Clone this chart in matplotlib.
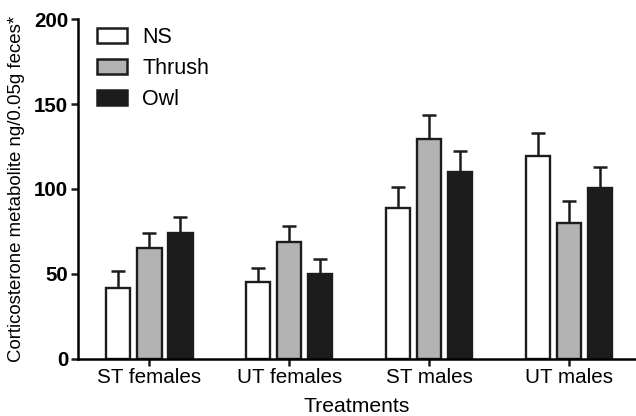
import numpy as np
import matplotlib
matplotlib.use('Agg')
import matplotlib.pyplot as plt

plt.rcParams['font.family'] = ['Liberation Sans', 'DejaVu Sans']

groups = ['ST females', 'UT females', 'ST males', 'UT males']
series = ['NS', 'Thrush', 'Owl']
colors = ['white', '#b3b3b3', '#1c1c1c']

ns_mean = [41.9, 44.9, 88.6, 119.4]
ns_err = [9.5, 8.7, 12.5, 13.6]
thrush_mean = [65.0, 68.8, 129.7, 80.0]
thrush_err = [9.3, 9.4, 13.8, 13.0]
owl_mean = [74.3, 50.0, 109.8, 100.5]
owl_err = [9.2, 8.9, 12.6, 12.4]

means = [ns_mean, thrush_mean, owl_mean]
errs = [ns_err, thrush_err, owl_err]

fig = plt.figure(figsize=(6.36, 4.16), dpi=100)
ax = fig.add_axes([0.1226, 0.138, 0.8774, 0.8155])

x = np.arange(len(groups))
offset = 0.222
width = 0.175
for i in range(3):
    pos = x + (i - 1) * offset
    ax.bar(pos, means[i], width, color=colors[i], edgecolor='#1c1c1c',
           linewidth=1.7, label=series[i], zorder=2)
    ax.errorbar(pos, means[i], yerr=[np.zeros(4), errs[i]], fmt='none',
                ecolor='#1c1c1c', elinewidth=1.8, capsize=5, capthick=1.8, zorder=1)

ax.set_xlim(-0.51, 3.48)
ax.set_ylim(0, 200)
ax.set_yticks([0, 50, 100, 150, 200])
ax.set_xticks(x)
ax.set_xticklabels(groups, fontsize=14.9)
for lab in ax.get_yticklabels():
    lab.set_fontweight('bold')
    lab.set_fontsize(14.8)

ax.spines['top'].set_visible(False)
ax.spines['right'].set_visible(False)
ax.spines['left'].set_linewidth(1.8)
ax.spines['bottom'].set_linewidth(1.8)
ax.tick_params(axis='both', width=1.8, length=5, color='#1c1c1c', pad=2)

ax.set_xlabel('Treatments', fontsize=15.2, labelpad=7)
ax.set_ylabel('Corticosterone metabolite ng/0.05g feces*', fontsize=13.4)
ax.yaxis.set_label_coords(-0.095, 0.5)

leg = ax.legend(loc='upper left', bbox_to_anchor=(0.034, 0.977), frameon=False,
                fontsize=15.5, handlelength=1.4, handleheight=0.73,
                labelspacing=0.46, handletextpad=0.7, borderpad=0,
                borderaxespad=0)
for h in leg.legend_handles:
    h.set_linewidth(1.8)

plt.savefig('out.png', dpi=100)
